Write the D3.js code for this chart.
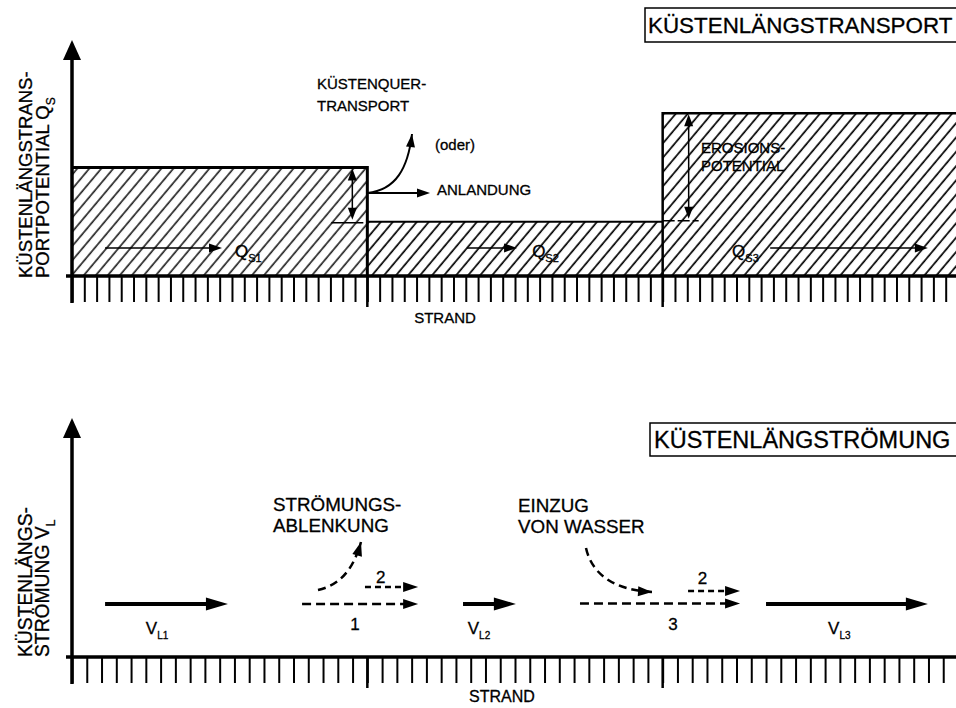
<!DOCTYPE html>
<html><head><meta charset="utf-8">
<script src="https://cdn.jsdelivr.net/npm/d3@7"></script>
<style>
html,body{margin:0;padding:0;background:#fff;}
text{font-family:"Liberation Sans",Arial,sans-serif;fill:#000;stroke:#000;stroke-width:0.3px;}
</style></head>
<body>
<svg id="c" width="956" height="708"></svg>
<script>
// ---- data ----
const sectionBounds = [0, 1, 2, 3];          // beach sections (boundaries)
const qsValues = [4.6, 2.3, 6.9];            // Küstenlängstransportpotential Q_S per section
const qsSubs = ["S1", "S2", "S3"];
const qsArrows = [[0.112, 0.508], [1.337, 1.507], [2.364, 2.898]]; // transport arrows (beach units)
const qsLabelX = [0.552, 1.558, 2.235];
const vlSubs = ["L1", "L2", "L3"];
const vlArrows = [[0.112, 0.528], [1.324, 1.503], [2.35, 2.898]];  // current arrows V_L
const vlLabelX = [0.25, 1.34, 2.56];
const dashArrows = [
  {x: [0.779, 1.172], y: 2.22, label: "1", lx: 0.958, ly: 1.12, fine: false},
  {x: [0.992, 1.172], y: 2.93, label: "2", lx: 1.045, ly: 3.1, fine: true},
  {x: [1.720, 2.262], y: 2.24, label: "3", lx: 2.035, ly: 1.12, fine: false},
  {x: [2.086, 2.262], y: 2.76, label: "2", lx: 2.135, ly: 3.05, fine: true}
];
const topTickStep = 1 / 24;
const botTickStep = 1 / 20;

// ---- scales ----
const svg = d3.select("#c");
const x = d3.scaleLinear().domain([0, 3]).range([72, 958]);
const yTop = d3.scaleLinear().domain([0, 10]).range([276, 40]);
const yBot = d3.scaleLinear().domain([0, 10]).range([657, 418]);

// hatch pattern
const defs = svg.append("defs");
const pat = defs.append("pattern").attr("id", "hatch").attr("patternUnits", "userSpaceOnUse")
  .attr("width", 9.2).attr("height", 10).attr("patternTransform", "rotate(40)");
pat.append("line").attr("x1", 2).attr("x2", 2).attr("y1", -2).attr("y2", 12)
  .attr("stroke", "#000").attr("stroke-width", 1.7);

function head(g, tx, ty, ang, len, hw) {
  const c = Math.cos(ang), s = Math.sin(ang);
  const bx = tx - c * len, by = ty - s * len;
  g.append("path").attr("d",
    `M${tx},${ty}L${bx - s * hw},${by + c * hw}L${bx + s * hw},${by - c * hw}Z`).attr("fill", "#000");
}
function hArrow(g, x1, x2, y, sw, len, hw, dash) {
  g.append("line").attr("x1", x1).attr("x2", x2 - len + 2).attr("y1", y).attr("y2", y)
    .attr("stroke", "#000").attr("stroke-width", sw).attr("stroke-dasharray", dash || null);
  head(g, x2, y, 0, len, hw);
}
function vDouble(g, xx, y1, y2) {
  g.append("line").attr("x1", xx).attr("x2", xx).attr("y1", y1 + 8).attr("y2", y2 - 8)
    .attr("stroke", "#000").attr("stroke-width", 1.5);
  head(g, xx, y1, -Math.PI / 2, 12, 4.5);
  head(g, xx, y2, Math.PI / 2, 12, 4.5);
}
function curveArrow(g, p, dash, len, hw) {
  g.append("path").attr("d", `M${p[0]},${p[1]}C${p[2]},${p[3]} ${p[4]},${p[5]} ${p[6]},${p[7]}`)
    .attr("fill", "none").attr("stroke", "#000").attr("stroke-width", dash ? 2.5 : 2)
    .attr("stroke-dasharray", dash || null);
  const ang = Math.atan2(p[7] - p[5], p[6] - p[4]);
  head(g, p[6], p[7], ang, len, hw);
}
function subText(g, xx, yy, main, sub, fs, sfs) {
  const t = g.append("text").attr("x", xx).attr("y", yy).attr("font-size", fs);
  t.append("tspan").text(main);
  t.append("tspan").attr("font-size", sfs).attr("dy", fs * 0.3).text(sub);
  return t;
}

function axes(g, y, ticksStep, tickLen, axisTopY) {
  const x0 = x(0), base = y(0);
  const tv = d3.range(0, 3.0001 + ticksStep * 2, ticksStep).filter(v => x(v) < 958);
  const ax = d3.axisBottom(x).tickValues(tv).tickSize(tickLen).tickSizeOuter(0).tickFormat("");
  const ag = g.append("g").attr("transform", `translate(0,${base})`).call(ax);
  ag.select(".domain").remove();
  ag.selectAll(".tick line").attr("stroke", "#000").attr("stroke-width", 2);
  sectionBounds.slice(1, 3).forEach(b => {
    g.append("line").attr("x1", x(b)).attr("x2", x(b)).attr("y1", base).attr("y2", base + tickLen + 5)
      .attr("stroke", "#000").attr("stroke-width", 2.5);
  });
  g.append("line").attr("x1", x0 - 6).attr("x2", 956).attr("y1", base).attr("y2", base)
    .attr("stroke", "#000").attr("stroke-width", 3.5);
  g.append("line").attr("x1", x0).attr("x2", x0).attr("y1", base + tickLen + 1).attr("y2", axisTopY + 18)
    .attr("stroke", "#000").attr("stroke-width", 3.5);
  head(g, x0, axisTopY, -Math.PI / 2, 20, 9);
}

// ================= TOP PANEL =================
const gt = svg.append("g");
qsValues.forEach((v, i) => {
  const x1 = x(sectionBounds[i]), x2 = Math.min(x(sectionBounds[i + 1]), 960);
  gt.append("rect").attr("x", x1).attr("y", yTop(v)).attr("width", x2 - x1).attr("height", yTop(0) - yTop(v))
    .attr("fill", "url(#hatch)").attr("opacity", i === 0 ? 0.85 : 1);
});
gt.append("path").attr("d",
  `M${x(0)},${yTop(qsValues[0])}H${x(1)}V${yTop(0)}`).attr("fill", "none").attr("stroke", "#000").attr("stroke-width", 3);
gt.append("path").attr("d",
  `M${x(1)},${yTop(qsValues[1])}H${x(2)}`).attr("fill", "none").attr("stroke", "#000").attr("stroke-width", 2);
gt.append("path").attr("d",
  `M${x(2)},${yTop(0)}V${yTop(qsValues[2])}H960`).attr("fill", "none").attr("stroke", "#000").attr("stroke-width", 2.5);
gt.append("line").attr("x1", x(1) - 36).attr("x2", x(1) - 4).attr("y1", yTop(qsValues[1]) + 1).attr("y2", yTop(qsValues[1]) + 1)
  .attr("stroke", "#000").attr("stroke-width", 1.5);
gt.append("line").attr("x1", x(2)).attr("x2", x(2) + 36).attr("y1", yTop(qsValues[1]) - 1).attr("y2", yTop(qsValues[1]) - 1)
  .attr("stroke", "#000").attr("stroke-width", 1.5).attr("stroke-dasharray", "12,3");
vDouble(gt, x(1) - 15, yTop(qsValues[0]) + 1, yTop(qsValues[1]) - 2);
vDouble(gt, x(2) + 26, yTop(qsValues[2]) + 1, yTop(qsValues[1]) - 3);

axes(gt, yTop, topTickStep, 26, 40);

qsArrows.forEach((a, i) => {
  hArrow(gt, x(a[0]), x(a[1]), yTop(1.19), 1.5, 13, 4.5);
  subText(gt, x(qsLabelX[i]), yTop(0.8), "Q", qsSubs[i], 17, 11);
});

const cx = x(1), cy = 193;
hArrow(gt, cx, 430, cy, 2, 13, 4.5);
curveArrow(gt, [cx, cy, 396, 190, 408, 168, 412, 134], null, 13, 4.5);

const fsT = 15;
gt.append("text").attr("x", 317).attr("y", 89).attr("font-size", fsT).text("KÜSTENQUER-");
gt.append("text").attr("x", 317).attr("y", 111).attr("font-size", fsT).text("TRANSPORT");
gt.append("text").attr("x", 435).attr("y", 150).attr("font-size", fsT).text("(oder)");
gt.append("text").attr("x", 437).attr("y", 195).attr("font-size", fsT).text("ANLANDUNG");
gt.append("text").attr("x", 701).attr("y", 153).attr("font-size", fsT).text("EROSIONS-");
gt.append("text").attr("x", 701).attr("y", 171).attr("font-size", fsT).text("POTENTIAL");
gt.append("text").attr("x", 445).attr("y", 323).attr("font-size", fsT).attr("text-anchor", "middle").text("STRAND");

const yl = gt.append("g").attr("transform", "translate(32,278) rotate(-90)");
yl.append("text").attr("x", 0).attr("y", 0).attr("font-size", 18.5).text("KÜSTENLÄNGSTRANS-");
subText(yl, 0, 17, "PORTPOTENTIAL Q", "S", 18.5, 12);

gt.append("path").attr("d", "M960,8H645V42H960").attr("fill", "none").attr("stroke", "#000").attr("stroke-width", 1.5);
gt.append("text").attr("x", 648).attr("y", 33).attr("font-size", 22.4).text("KÜSTENLÄNGSTRANSPORT");

// ================= BOTTOM PANEL =================
const gb = svg.append("g");
axes(gb, yBot, botTickStep, 26, 418);

vlArrows.forEach((a, i) => {
  hArrow(gb, x(a[0]), x(a[1]), yBot(2.22), 4, 22, 6.5);
  subText(gb, x(vlLabelX[i]), yBot(0.95), "V", vlSubs[i], 17, 10);
});
dashArrows.forEach(d => {
  hArrow(gb, x(d.x[0]), x(d.x[1]), yBot(d.y), 2.5, 15, 5, d.fine ? "6,4" : "9,5");
  gb.append("text").attr("x", x(d.lx)).attr("y", yBot(d.ly)).attr("font-size", 17)
    .attr("text-anchor", "middle").text(d.label);
});
curveArrow(gb, [318, 590, 340, 585, 353, 570, 361, 542], "8,5", 14, 5);
curveArrow(gb, [586, 548, 592, 575, 615, 590, 652, 592], "8,5", 14, 5);

const fsB = 18.8;
gb.append("text").attr("x", 273).attr("y", 511).attr("font-size", fsB).text("STRÖMUNGS-");
gb.append("text").attr("x", 273).attr("y", 532).attr("font-size", fsB).text("ABLENKUNG");
gb.append("text").attr("x", 518).attr("y", 512).attr("font-size", fsB).text("EINZUG");
gb.append("text").attr("x", 518).attr("y", 533).attr("font-size", fsB).text("VON WASSER");
gb.append("text").attr("x", 502).attr("y", 702).attr("font-size", 16).attr("text-anchor", "middle").text("STRAND");

const yl2 = gb.append("g").attr("transform", "translate(32,657) rotate(-90)");
yl2.append("text").attr("x", 0).attr("y", 0).attr("font-size", 19.3).text("KÜSTENLÄNGS-");
subText(yl2, 0, 17, "STRÖMUNG V", "L", 19.3, 12);

gb.append("path").attr("d", "M960,423H650V456H960").attr("fill", "none").attr("stroke", "#000").attr("stroke-width", 1.5);
gb.append("text").attr("x", 654).attr("y", 448).attr("font-size", 23.5).text("KÜSTENLÄNGSTRÖMUNG");
</script>
</body></html>
